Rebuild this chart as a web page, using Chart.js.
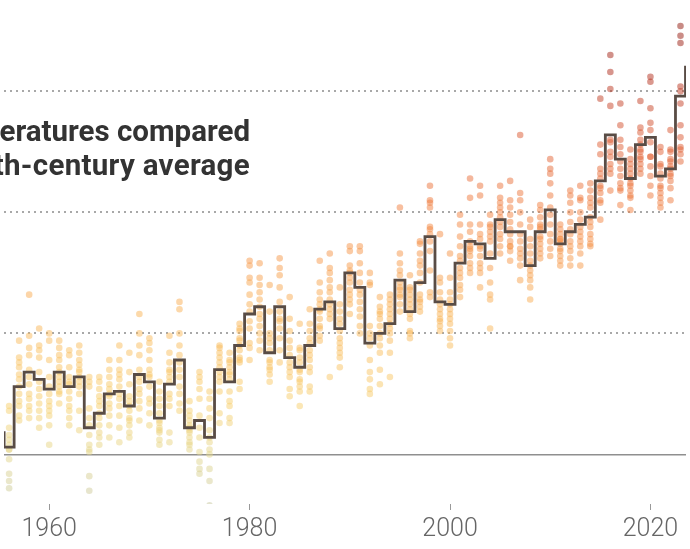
<!DOCTYPE html>
<html lang="en">
<head>
  <meta charset="UTF-8" />
  <title>Global temperatures compared with the 20th-century average</title>
  <script src="https://cdn.jsdelivr.net/npm/chart.js"></script>
  <style>
    html, body {
      margin: 0;
      padding: 0;
      background: #fff;
      overflow: hidden;
    }
    .wrap {
      position: relative;
      width: 690px;
      height: 549px;
    }
    .title {
      position: absolute;
      right: 440px;
      top: 114px;
      font-family: Roboto, "Noto Sans", sans-serif;
      font-weight: 700;
      font-size: 29.5px;
      line-height: 34px;
      color: #333;
      text-align: right;
      white-space: nowrap;
    }
    .title .l2 { letter-spacing: 0.3px; }
    canvas { display: block; }
  </style>
</head>
<body>
  <div class="wrap">
    <canvas id="chart" width="690" height="549"></canvas>
    <div class="title">Global temperatures compared<br><span class="l2">with the 20th-century average</span></div>
  </div>

  <script>
    // annual averages, 1955 - 2024 (one per year)
    const firstYear = 1955;
    const annual = [
      0.09, 0.03, 0.28, 0.34, 0.31, 0.27, 0.34, 0.28, 0.32, 0.11,
      0.17, 0.25, 0.26, 0.20, 0.33, 0.30, 0.15, 0.29, 0.39, 0.11,
      0.14, 0.07, 0.35, 0.30, 0.45, 0.58, 0.61, 0.42, 0.61, 0.40,
      0.36, 0.45, 0.60, 0.63, 0.52, 0.75, 0.69, 0.46, 0.50, 0.54,
      0.72, 0.59, 0.71, 0.90, 0.63, 0.62, 0.79, 0.88, 0.87, 0.81,
      0.97, 0.92, 0.92, 0.78, 0.92, 1.01, 0.87, 0.92, 0.95, 0.98,
      1.13, 1.32, 1.22, 1.14, 1.28, 1.31, 1.15, 1.18, 1.48, 1.60
    ];

    // monthly readings, one row per year from 1956 (sorted high to low)
    const monthlyStart = 1956;
    const monthly = [
      [0.20, 0.18, 0.11, 0.08, 0.06, 0.04, 0.02, 0.02, -0.02, -0.08, -0.11, -0.14], // 1956
      [0.47, 0.40, 0.38, 0.36, 0.33, 0.31, 0.28, 0.25, 0.22, 0.20, 0.16, 0.14],
      [0.66, 0.49, 0.44, 0.41, 0.35, 0.32, 0.29, 0.25, 0.23, 0.20, 0.18, 0.15],
      [0.52, 0.45, 0.43, 0.40, 0.34, 0.30, 0.27, 0.24, 0.21, 0.18, 0.15, 0.11],
      [0.50, 0.47, 0.39, 0.32, 0.28, 0.25, 0.22, 0.20, 0.18, 0.16, 0.12, 0.04], // 1960
      [0.47, 0.44, 0.41, 0.39, 0.36, 0.34, 0.32, 0.30, 0.28, 0.26, 0.25, 0.21],
      [0.43, 0.41, 0.36, 0.32, 0.30, 0.29, 0.26, 0.23, 0.20, 0.18, 0.15, 0.12],
      [0.45, 0.42, 0.39, 0.37, 0.35, 0.34, 0.32, 0.30, 0.28, 0.25, 0.18, 0.10],
      [0.32, 0.30, 0.28, 0.19, 0.15, 0.12, 0.08, 0.04, 0.02, 0.01, -0.09, -0.15],
      [0.32, 0.30, 0.27, 0.24, 0.22, 0.20, 0.17, 0.15, 0.12, 0.09, 0.07, 0.04],
      [0.39, 0.35, 0.32, 0.29, 0.27, 0.25, 0.24, 0.21, 0.19, 0.16, 0.12, 0.07],
      [0.45, 0.39, 0.35, 0.33, 0.31, 0.28, 0.25, 0.23, 0.20, 0.16, 0.11, 0.05],
      [0.42, 0.34, 0.29, 0.24, 0.22, 0.20, 0.18, 0.15, 0.14, 0.12, 0.09, 0.07],
      [0.58, 0.50, 0.45, 0.41, 0.35, 0.32, 0.30, 0.27, 0.25, 0.22, 0.19, 0.14],
      [0.48, 0.46, 0.43, 0.39, 0.35, 0.33, 0.32, 0.28, 0.23, 0.21, 0.17, 0.12], // 1970
      [0.30, 0.26, 0.23, 0.20, 0.17, 0.14, 0.13, 0.11, 0.10, 0.09, 0.06, 0.04],
      [0.49, 0.42, 0.38, 0.35, 0.34, 0.32, 0.30, 0.25, 0.23, 0.20, 0.09, 0.05],
      [0.63, 0.60, 0.50, 0.45, 0.41, 0.38, 0.35, 0.32, 0.28, 0.25, 0.21, 0.18],
      [0.22, 0.18, 0.16, 0.14, 0.12, 0.11, 0.10, 0.09, 0.07, 0.05, 0.04, 0.02],
      [0.34, 0.32, 0.30, 0.27, 0.23, 0.16, 0.11, 0.07, 0.01, -0.03, -0.06, -0.08],
      [0.26, 0.23, 0.19, 0.15, 0.10, 0.07, 0.05, 0.02, 0.00, -0.06, -0.11, -0.21],
      [0.45, 0.44, 0.42, 0.40, 0.38, 0.36, 0.34, 0.32, 0.30, 0.26, 0.17, 0.13],
      [0.42, 0.39, 0.38, 0.36, 0.34, 0.33, 0.31, 0.26, 0.22, 0.20, 0.15, 0.13],
      [0.54, 0.52, 0.51, 0.48, 0.47, 0.45, 0.43, 0.40, 0.39, 0.38, 0.30, 0.27],
      [0.80, 0.78, 0.73, 0.71, 0.66, 0.62, 0.59, 0.55, 0.52, 0.46, 0.44, 0.39], // 1980
      [0.79, 0.73, 0.70, 0.67, 0.64, 0.61, 0.58, 0.56, 0.53, 0.50, 0.47, 0.43],
      [0.70, 0.59, 0.50, 0.48, 0.46, 0.43, 0.39, 0.38, 0.36, 0.35, 0.33, 0.30],
      [0.81, 0.77, 0.74, 0.69, 0.63, 0.59, 0.56, 0.55, 0.52, 0.48, 0.43, 0.38],
      [0.65, 0.56, 0.51, 0.47, 0.44, 0.41, 0.38, 0.36, 0.34, 0.32, 0.27, 0.24],
      [0.54, 0.44, 0.43, 0.40, 0.38, 0.35, 0.34, 0.31, 0.30, 0.28, 0.26, 0.20],
      [0.60, 0.54, 0.51, 0.48, 0.46, 0.43, 0.41, 0.39, 0.36, 0.34, 0.28, 0.26],
      [0.80, 0.71, 0.67, 0.64, 0.62, 0.60, 0.59, 0.56, 0.53, 0.52, 0.49, 0.47],
      [0.83, 0.77, 0.75, 0.72, 0.69, 0.67, 0.64, 0.62, 0.60, 0.58, 0.56, 0.32],
      [0.69, 0.62, 0.59, 0.56, 0.54, 0.51, 0.48, 0.46, 0.44, 0.42, 0.40, 0.36],
      [0.86, 0.84, 0.78, 0.76, 0.75, 0.73, 0.71, 0.68, 0.66, 0.64, 0.62, 0.58], // 1990
      [0.86, 0.84, 0.79, 0.75, 0.71, 0.68, 0.66, 0.63, 0.60, 0.57, 0.53, 0.50],
      [0.75, 0.71, 0.70, 0.53, 0.50, 0.48, 0.45, 0.39, 0.34, 0.31, 0.27, 0.25],
      [0.65, 0.61, 0.59, 0.58, 0.56, 0.53, 0.50, 0.48, 0.45, 0.42, 0.35, 0.29],
      [0.66, 0.64, 0.62, 0.60, 0.58, 0.56, 0.54, 0.52, 0.50, 0.47, 0.42, 0.32],
      [1.02, 0.83, 0.79, 0.76, 0.74, 0.71, 0.69, 0.68, 0.66, 0.65, 0.62, 0.59],
      [0.74, 0.69, 0.68, 0.66, 0.64, 0.62, 0.60, 0.58, 0.56, 0.51, 0.50, 0.48],
      [0.88, 0.87, 0.83, 0.80, 0.78, 0.75, 0.71, 0.66, 0.64, 0.63, 0.61, 0.59],
      [1.11, 1.05, 1.04, 1.02, 0.94, 0.93, 0.91, 0.88, 0.84, 0.76, 0.67, 0.65],
      [0.91, 0.73, 0.71, 0.67, 0.64, 0.62, 0.60, 0.58, 0.56, 0.55, 0.53, 0.51],
      [0.83, 0.73, 0.67, 0.64, 0.62, 0.60, 0.58, 0.56, 0.54, 0.51, 0.48, 0.45], // 2000
      [0.99, 0.95, 0.90, 0.86, 0.82, 0.80, 0.77, 0.75, 0.73, 0.70, 0.68, 0.65],
      [1.14, 1.06, 0.95, 0.92, 0.88, 0.86, 0.85, 0.84, 0.82, 0.79, 0.77, 0.75],
      [1.11, 1.07, 0.95, 0.91, 0.89, 0.86, 0.85, 0.82, 0.79, 0.77, 0.75, 0.69],
      [0.99, 0.95, 0.94, 0.92, 0.90, 0.88, 0.83, 0.77, 0.71, 0.66, 0.64, 0.52],
      [1.11, 1.06, 1.04, 1.02, 1.00, 0.98, 0.96, 0.94, 0.91, 0.89, 0.86, 0.83],
      [1.13, 1.05, 1.02, 0.99, 0.96, 0.93, 0.91, 0.88, 0.86, 0.86, 0.84, 0.80],
      [1.32, 1.08, 1.05, 1.00, 0.95, 0.91, 0.88, 0.85, 0.83, 0.81, 0.78, 0.72],
      [0.97, 0.94, 0.89, 0.86, 0.83, 0.80, 0.78, 0.76, 0.74, 0.72, 0.69, 0.64],
      [1.03, 1.01, 0.98, 0.95, 0.94, 0.93, 0.90, 0.89, 0.87, 0.85, 0.83, 0.81],
      [1.22, 1.18, 1.16, 1.12, 1.07, 1.02, 0.99, 0.95, 0.91, 0.88, 0.85, 0.82], // 2010
      [0.95, 0.93, 0.91, 0.89, 0.89, 0.88, 0.87, 0.85, 0.84, 0.82, 0.80, 0.78],
      [1.09, 1.07, 1.04, 1.00, 0.96, 0.93, 0.91, 0.88, 0.86, 0.84, 0.81, 0.78],
      [1.11, 1.06, 1.05, 1.00, 0.97, 0.94, 0.92, 0.90, 0.88, 0.86, 0.83, 0.78],
      [1.12, 1.09, 1.06, 1.04, 1.02, 0.98, 0.96, 0.94, 0.91, 0.89, 0.87, 0.86],
      [1.47, 1.28, 1.24, 1.18, 1.16, 1.14, 1.11, 1.10, 1.08, 1.05, 1.04, 0.97],
      [1.65, 1.58, 1.51, 1.44, 1.30, 1.29, 1.25, 1.23, 1.20, 1.18, 1.16, 1.09],
      [1.45, 1.36, 1.30, 1.27, 1.24, 1.21, 1.18, 1.15, 1.12, 1.10, 1.09, 1.03],
      [1.26, 1.22, 1.20, 1.18, 1.16, 1.14, 1.12, 1.11, 1.09, 1.07, 1.06, 1.01],
      [1.46, 1.35, 1.33, 1.30, 1.28, 1.26, 1.25, 1.23, 1.22, 1.20, 1.18, 1.16],
      [1.56, 1.54, 1.43, 1.37, 1.34, 1.29, 1.23, 1.23, 1.19, 1.15, 1.11, 1.07], // 2020
      [1.27, 1.25, 1.20, 1.19, 1.16, 1.14, 1.11, 1.10, 1.08, 1.06, 1.04, 1.02],
      [1.34, 1.26, 1.25, 1.22, 1.21, 1.19, 1.18, 1.16, 1.15, 1.13, 1.10, 1.05],
      [1.77, 1.73, 1.70, 1.52, 1.50, 1.45, 1.36, 1.31, 1.27, 1.26, 1.24, 1.21]  // 2023
    ];

    const yearTicks = [1960, 1980, 2000, 2020];
    const gridValues = [0, 0.5, 1, 1.5];

    // colour ramp for the dots, low -> high
    const rampStops = [-0.2, 0.0, 0.2, 0.6, 1.0, 1.3, 1.6, 1.8];
    const rampColors = [
      [200, 200, 160], [228, 215, 140], [248, 208, 110], [250, 178, 85],
      [243, 130, 65], [222, 92, 52], [172, 40, 25], [140, 20, 10]
    ];

    function dotColor(v) {
      let i = 0;
      while (i < rampStops.length - 2 && v > rampStops[i + 1]) i++;
      let t = (v - rampStops[i]) / (rampStops[i + 1] - rampStops[i]);
      t = Math.max(0, Math.min(1, t));
      const a = rampColors[i], b = rampColors[i + 1];
      const c = a.map((x, k) => Math.round(x + (b[k] - x) * t));
      return `rgba(${c[0]},${c[1]},${c[2]},0.5)`;
    }

    const linePoints = annual.map((v, i) => ({ x: firstYear + i, y: v }));
    const dotPoints = [];
    monthly.forEach((row, i) => {
      row.forEach(v => dotPoints.push({ x: monthlyStart + i, y: v }));
    });

    new Chart(document.getElementById('chart'), {
      type: 'scatter',
      data: {
        datasets: [
          {
            type: 'line',
            data: linePoints,
            stepped: 'middle',
            borderColor: '#594c45',
            borderWidth: 2.8,
            pointRadius: 0,
            fill: false,
            order: 0
          },
          {
            data: dotPoints,
            pointRadius: 3.3,
            pointBorderWidth: 0,
            pointBackgroundColor: ctx => dotColor(ctx.raw ? ctx.raw.y : 0),
            order: 1
          }
        ]
      },
      options: {
        responsive: false,
        animation: false,
        devicePixelRatio: 1,
        layout: { padding: 0 },
        plugins: {
          legend: { display: false },
          tooltip: { enabled: false }
        },
        scales: {
          x: {
            type: 'linear',
            min: 1955.49,
            max: 2023.55,
            afterBuildTicks: s => { s.ticks = yearTicks.map(v => ({ value: v })); },
            afterFit: s => { s.height = 45; },
            grid: {
              drawOnChartArea: false,
              drawTicks: true,
              tickLength: 6,
              color: '#999',
              lineWidth: 1
            },
            border: { display: false },
            ticks: {
              padding: 5,
              color: '#666',
              font: { family: 'Roboto', size: 25, weight: 300 },
              callback: v => String(v),
              maxRotation: 0
            }
          },
          y: {
            min: -0.205,
            max: 1.861,
            afterBuildTicks: s => { s.ticks = gridValues.map(v => ({ value: v })); },
            afterFit: s => { s.width = 0; },
            ticks: { display: false },
            grid: {
              drawTicks: false,
              color: ctx => ctx.tick && ctx.tick.value === 0 ? '#8f8f8f' : '#a8a8a8',
              lineWidth: ctx => ctx.tick && ctx.tick.value === 0 ? 1.5 : 2
            },
            border: {
              display: false,
              dash: ctx => ctx.tick && ctx.tick.value === 0 ? [] : [2, 4]
            }
          }
        }
      }
    });
  </script>
</body>
</html>
